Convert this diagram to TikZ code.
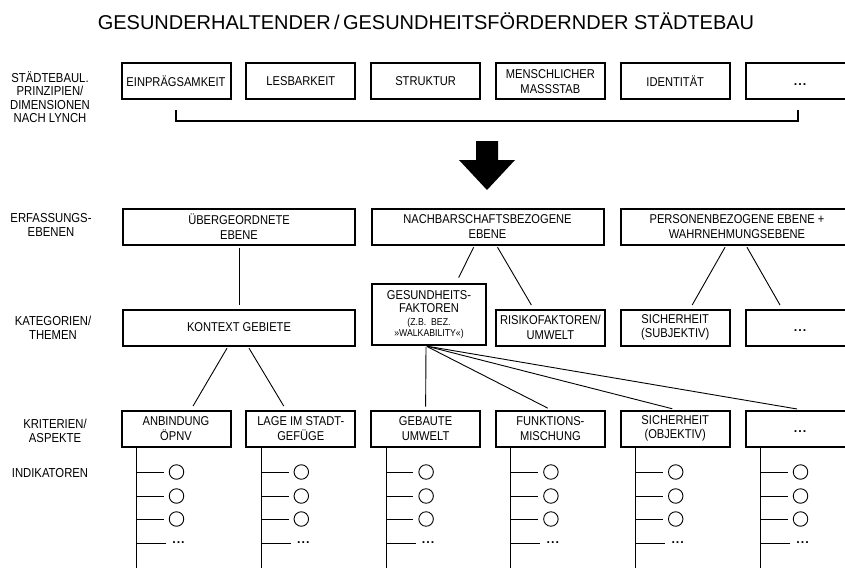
\documentclass[tikz,border=0pt]{standalone}
\usepackage{fontspec}
\setmainfont{Liberation Sans}
\newfontfamily\narrowfont{Liberation Sans}[FakeStretch=0.87]
\usetikzlibrary{
	positioning				% Allows relative placement
	, calc					% Allows ($(a)+(b)$) style coordinates
}
\newcommand{\etcdots}{{\normalfont\bfseries\fontsize{12.5}{14}\selectfont .\kern1pt.\kern1pt.}}

\begin{document}
\begin{tikzpicture}[x=1pt, y=-1pt
		, box/.style={draw, rectangle, line width=2pt, inner sep=0pt, minimum height=36pt, align=center, font=\narrowfont\fontsize{12.8}{14.5}\selectfont}
		, smallbox/.style={box, minimum width=109pt}
		, widebox/.style={box, minimum width=232pt}
		, rowlabel/.style={align=center, font=\narrowfont\fontsize{13}{13.5}\selectfont}
		, link/.style={line width=0.9pt, shorten <=2pt, shorten >=4pt}
		, fan/.style={line width=0.9pt, shorten <=1pt, shorten >=3pt}
		, stem/.style={line width=0.9pt}
		, indicator/.style={draw, circle, line width=0.9pt, minimum size=14.5pt, inner sep=0pt}
		, etc/.style={inner sep=0pt}
		, bracket/.style={line width=2pt}]

		%%% Page frame
		\useasboundingbox (0,0) rectangle (845,567);
		\fill[white] (0,0) rectangle (845,567);
		\clip (0,0) rectangle (845,567);

		%%% Title
		\node[anchor=base, font=\fontsize{20}{24}\selectfont] (title) at (426, 29.5) {GESUNDERHALTENDER\,/\,GESUNDHEITSFÖRDERNDER STÄDTEBAU};

		%%% Row labels
		\node[rowlabel] (principleslabel) at (50, 97) {STÄDTEBAUL.\\PRINZIPIEN/\\DIMENSIONEN\\NACH LYNCH};
		\node[rowlabel] (levelslabel) at (51, 225) {ERFASSUNGS-\\EBENEN};
		\node[rowlabel] (topicslabel) at (53, 328) {KATEGORIEN/\\THEMEN};
		\node[rowlabel] (criterialabel) at (55, 431) {KRITERIEN/\\ASPEKTE};
		\node[rowlabel] (indicatorlabel) at (50, 473) {INDIKATOREN};

		%%% Principles after Lynch
		\foreach [count=\i] \principle/\txt in {memo/EINPRÄGSAMKEIT, legib/LESBARKEIT, struct/STRUKTUR, scale/{MENSCHLICHER\\MASSSTAB}, ident/IDENTITÄT, pmore/{\vphantom{A}\etcdots}} {
			\node[smallbox] (\principle) at ({176 + 124.8*(\i - 1)}, 81.5) {\txt};
		};

		%% Bracket under the principles
		\draw[bracket] ($(memo.south)+(0,9.5)$) -- ++(0,11) -| ($(pmore.south)+(-2,9.5)$);

		%% Big arrow
		\fill (476,141) -- (498,141) -- (498,160) -- (515,160) -- (487,190) -- (459,160) -- (476,160) -- cycle;

		%%% Survey levels
		\node[widebox] (upper) at (239, 226.5) {ÜBERGEORDNETE\\EBENE};
		\node[widebox] (neighbour) at (487.5, 226.5) {NACHBARSCHAFTSBEZOGENE\\EBENE};
		\node[widebox] (person) at (737, 226.5) {PERSONENBEZOGENE EBENE +\\WAHRNEHMUNGSEBENE};

		%%% Categories
		\node[box, minimum width=114pt, minimum height=61pt] (health) at (429, 314.5) {GESUNDHEITS-\\[-1pt]FAKTOREN\\[-2pt]{\fontsize{10}{11}\selectfont (Z.B.\ \ BEZ.}\\[-3pt]{\fontsize{10}{11}\selectfont »WALKABILITY«)}};
		\node[widebox] (context) at (239, 327.5) {KONTEXT GEBIETE};
		\node[smallbox] (risk) at (550.4, 327.5) {RISIKOFAKTOREN/\\UMWELT};
		\node[smallbox] (subjective) at (675.2, 327.5) {SICHERHEIT\\(SUBJEKTIV)};
		\node[smallbox] (cmore) at (800, 327.5) {\vphantom{A}\etcdots};

		%%% Criteria
		\foreach [count=\i] \crit/\txt in {transit/{ANBINDUNG\\ÖPNV}, location/{LAGE IM STADT-\\GEFÜGE}, built/{GEBAUTE\\UMWELT}, mixing/{FUNKTIONS-\\MISCHUNG}, objective/{SICHERHEIT\\(OBJEKTIV)}, amore/{\vphantom{A}\etcdots}} {
			\node[smallbox] (\crit) at ({176 + 124.8*(\i - 1)}, 428.5) {\txt};
		};

		%%% Links between levels
		%% Levels to categories
		\draw[link] (upper) -- (context);
		\draw[link, shorten >=6pt] ($(neighbour.south)+(-13,0)$) -- ($(health.north)+(27,0)$);
		\draw[link] ($(neighbour.south)+(9,0)$) -- ($(risk.north)+(-17,0)$);
		\draw[link] ($(person.south)+(-11,0)$) -- ($(subjective.north)+(15,0)$);
		\draw[link] ($(person.south)+(9,0)$) -- ($(cmore.north)+(-18,0)$);

		%% Categories to criteria
		\draw[link] ($(context.south)+(-11,0)$) -- ($(transit.north)+(15,0)$);
		\draw[link] ($(context.south)+(9,0)$) -- ($(location.north)+(-15,0)$);
		\foreach \target in {built, mixing, objective, amore} {
			\draw[fan] ($(health.south)+(-3,0)$) -- (\target.north);
		};

		%%% Indicators below each criterion
		\foreach \crit in {transit, location, built, mixing, objective, amore} {
			\coordinate (\crit-root) at ($(\crit.south west)+(16,0)$);
			\coordinate (\crit-end) at (\crit-root |- 0,575);
			\draw[stem] (\crit-root) -- (\crit-end);
			\foreach \j/\yy in {1/472, 2/496, 3/519} {
				\node[indicator] (\crit-ind\j) at ($(\crit-root |- 0,\yy)+(40,0)$) {};
				\draw[stem, shorten >=5pt] (\crit-root |- \crit-ind\j) -- (\crit-ind\j);
			};
			\node[etc] (\crit-etc) at ($(\crit-root |- 0,543)+(42,0)$) {\etcdots};
			\draw[stem, shorten >=6pt] (\crit-root |- \crit-etc) -- (\crit-etc.west);
		};
	\end{tikzpicture}
\end{document}
